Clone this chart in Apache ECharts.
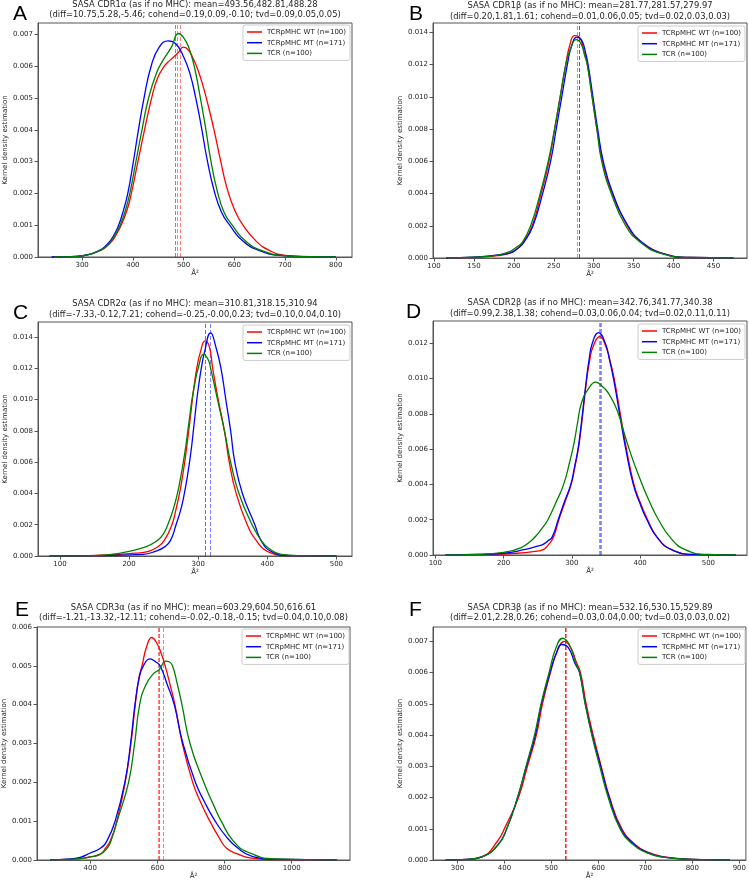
<!DOCTYPE html>
<html><head><meta charset="utf-8">
<script src="https://cdn.jsdelivr.net/npm/echarts@6/dist/echarts.min.js"></script>
<style>html,body{margin:0;padding:0;background:#fff}#c{width:749px;height:881px}</style>
</head><body><div id="c"></div>
<script>
// ---------------- DATA ----------------
const seriesNames = ['TCRpMHC WT (n=100)', 'TCRpMHC MT (n=171)', 'TCR (n=100)'];
const panelLetters = ['A', 'B', 'C', 'D', 'E', 'F'];
const panelTitles = [
  'SASA CDR1α (as if no MHC): mean=493.56,482.81,488.28\n(diff=10.75,5.28,-5.46; cohend=0.19,0.09,-0.10; tvd=0.09,0.05,0.05)',
  'SASA CDR1β (as if no MHC): mean=281.77,281.57,279.97\n(diff=0.20,1.81,1.61; cohend=0.01,0.06,0.05; tvd=0.02,0.03,0.03)',
  'SASA CDR2α (as if no MHC): mean=310.81,318.15,310.94\n(diff=-7.33,-0.12,7.21; cohend=-0.25,-0.00,0.23; tvd=0.10,0.04,0.10)',
  'SASA CDR2β (as if no MHC): mean=342.76,341.77,340.38\n(diff=0.99,2.38,1.38; cohend=0.03,0.06,0.04; tvd=0.02,0.11,0.11)',
  'SASA CDR3α (as if no MHC): mean=603.29,604.50,616.61\n(diff=-1.21,-13.32,-12.11; cohend=-0.02,-0.18,-0.15; tvd=0.04,0.10,0.08)',
  'SASA CDR3β (as if no MHC): mean=532.16,530.15,529.89\n(diff=2.01,2.28,0.26; cohend=0.03,0.04,0.00; tvd=0.03,0.03,0.02)'
];
const xLabel = 'Å²';
const yLabel = 'Kernel density estimation';

// Panel A : CDR1α
const wtA = [[240,0],[290,0.00002],[318,0.0001],[335,0.0002],[346,0.0003],[359,0.0005],[367,0.0007],[377,0.001],[389,0.0015],[397,0.002],[410,0.003],[423,0.004],[437,0.005],[448,0.0056],[462,0.006],[474,0.0062],[488,0.0064],[500,0.0066],[510,0.0065],[520,0.0062],[528,0.0059],[538,0.0054],[548,0.0048],[560,0.004],[572,0.0031],[585,0.0022],[600,0.0015],[617,0.001],[643,0.0005],[670,0.0002],[700,0.00005],[750,0.00001],[800,0]];
const mtA = [[240,0],[290,0.00002],[318,0.0001],[333,0.0002],[343,0.0003],[355,0.0005],[363,0.0007],[372,0.001],[382,0.0015],[390,0.002],[401,0.003],[411,0.004],[422,0.005],[436,0.006],[452,0.0066],[470,0.0068],[485,0.0067],[500,0.0063],[512,0.0058],[524,0.005],[535,0.0041],[546,0.0031],[560,0.0021],[575,0.0014],[591,0.001],[617,0.0005],[650,0.0002],[690,0.00005],[740,0.00001],[800,0]];
const tcrA = [[245,0],[290,0.00002],[318,0.0001],[334,0.0002],[345,0.0003],[357,0.0005],[365,0.0007],[375,0.001],[386,0.0015],[394,0.002],[406,0.003],[418,0.004],[431,0.005],[447,0.0058],[460,0.0062],[476,0.0066],[490,0.00703],[500,0.0069],[510,0.0066],[521,0.006],[532,0.0051],[543,0.0041],[553,0.0031],[566,0.0021],[580,0.0014],[596,0.001],[622,0.0005],[655,0.0002],[700,0.00004],[750,0.00001],[800,0]];
const meansA = [493.56, 482.81, 488.28];
const xTicksA = [300, 400, 500, 600, 700, 800];
const yTicksA = [0, 0.001, 0.002, 0.003, 0.004, 0.005, 0.006, 0.007];

// Panel B : CDR1β
const wtB = [[115,0],[150,0.00004],[180,0.00015],[195,0.0003],[205,0.0006],[212,0.001],[223,0.002],[234,0.004],[244,0.006],[251,0.008],[258,0.010],[265,0.012],[270,0.0132],[276,0.0138],[282,0.0137],[288,0.0128],[292,0.012],[298,0.010],[304,0.008],[311,0.006],[323,0.004],[342,0.002],[352,0.0013],[362,0.0009],[385,0.0003],[420,0.00003],[475,0]];
const mtB = [[115,0],[150,0.00005],[180,0.0002],[195,0.0003],[205,0.0006],[213,0.001],[224,0.002],[236,0.004],[246,0.006],[253,0.008],[260,0.010],[267,0.012],[272,0.0131],[279,0.0137],[285,0.0135],[290,0.0127],[293,0.012],[299,0.010],[305,0.008],[312,0.006],[324,0.004],[343,0.002],[360,0.001],[385,0.0003],[420,0.00003],[475,0]];
const tcrB = [[115,0],[150,0.00005],[180,0.00018],[195,0.0004],[204,0.0007],[211,0.001],[221,0.002],[233,0.004],[243,0.006],[251,0.008],[258,0.010],[265,0.012],[271,0.013],[278,0.01355],[284,0.0133],[289,0.0125],[292,0.012],[298,0.010],[304,0.008],[310,0.006],[322,0.004],[340,0.002],[358,0.001],[383,0.0003],[420,0.00003],[475,0]];
const meansB = [281.77, 281.57, 279.97];
const xTicksB = [100, 150, 200, 250, 300, 350, 400, 450];
const yTicksB = [0, 0.002, 0.004, 0.006, 0.008, 0.010, 0.012, 0.014];

// Panel C : CDR2α
const wtC = [[85,0],[140,0.00002],[180,0.0001],[210,0.00018],[228,0.0003],[242,0.0006],[251,0.001],[262,0.002],[268,0.003],[273,0.004],[277,0.005],[280.5,0.006],[283.5,0.007],[286.3,0.008],[289,0.009],[291.6,0.010],[294.5,0.011],[298,0.012],[303,0.013],[310,0.01375],[316,0.0134],[321,0.012],[329,0.010],[338,0.008],[345,0.006],[355,0.004],[371,0.002],[384,0.001],[400,0.0003],[430,0.00003],[500,0]];
const mtC = [[85,0],[150,0.00002],[190,0.00006],[220,0.0001],[238,0.0003],[252,0.0006],[260,0.001],[268,0.002],[275,0.003],[280,0.004],[284,0.005],[287.5,0.006],[290.5,0.007],[293,0.008],[295.5,0.009],[298,0.010],[301,0.011],[304.5,0.012],[309,0.013],[318,0.01426],[326,0.0133],[333,0.012],[340,0.010],[347,0.008],[353,0.006],[364,0.004],[382,0.002],[391,0.001],[405,0.0003],[430,0.00003],[500,0]];
const tcrC = [[85,0],[150,0.00003],[175,0.0001],[200,0.0003],[225,0.0006],[238,0.0009],[248,0.0013],[256,0.002],[264,0.003],[270,0.004],[274.5,0.005],[278.5,0.006],[282,0.007],[285,0.008],[288,0.009],[291,0.010],[295,0.011],[300,0.012],[308,0.0129],[315,0.0125],[318,0.012],[328,0.010],[338,0.008],[347,0.006],[359,0.004],[378,0.002],[391,0.001],[402,0.0005],[420,0.0001],[450,0.00002],[500,0]];
const meansC = [310.81, 318.15, 310.94];
const xTicksC = [100, 200, 300, 400, 500];
const yTicksC = [0, 0.002, 0.004, 0.006, 0.008, 0.010, 0.012, 0.014];

// Panel D : CDR2β
const wtD = [[115,0],[180,0.00003],[220,0.0001],[245,0.0002],[258,0.0003],[266,0.0006],[273,0.001],[281,0.002],[290,0.003],[299,0.004],[304.5,0.005],[309.5,0.006],[313,0.007],[316,0.008],[322,0.010],[326,0.011],[331,0.0118],[341,0.01237],[350,0.0118],[356,0.011],[362,0.010],[371,0.008],[380,0.006],[391,0.004],[400,0.003],[411,0.002],[425,0.001],[446,0.0003],[480,0.00003],[540,0]];
const mtD = [[115,0],[160,0.00003],[200,0.0001],[230,0.0003],[250,0.0005],[258,0.0006],[265,0.0008],[271,0.001],[280,0.002],[289,0.003],[298.5,0.004],[304,0.005],[309,0.006],[312.5,0.007],[315.5,0.008],[321.5,0.010],[325,0.011],[330,0.012],[339,0.0126],[349,0.012],[355.5,0.011],[361,0.010],[370,0.008],[379,0.006],[390,0.004],[399,0.003],[410,0.002],[425,0.001],[446,0.0003],[480,0.00003],[540,0]];
const tcrD = [[115,0],[160,0.00003],[200,0.00015],[225,0.0004],[240,0.0008],[250,0.0012],[258,0.0016],[265,0.002],[277,0.003],[288,0.004],[297,0.0053],[303,0.0063],[308,0.0074],[314,0.0086],[324,0.0094],[335,0.0098],[346,0.0095],[353,0.0092],[363,0.0085],[370,0.0078],[376,0.007],[384,0.006],[393,0.005],[403,0.004],[414,0.003],[427,0.002],[444,0.001],[466,0.0003],[500,0.00003],[540,0]];
const meansD = [342.76, 341.77, 340.38];
const xTicksD = [100, 200, 300, 400, 500];
const yTicksD = [0, 0.002, 0.004, 0.006, 0.008, 0.010, 0.012];

// Panel E : CDR3α
const wtE = [[280,0],[350,0.00002],[400,0.00008],[430,0.00015],[445,0.0003],[460,0.0005],[479,0.001],[504,0.002],[521,0.003],[534,0.004],[545,0.0047],[554,0.005],[568,0.0055],[583,0.00573],[597,0.0056],[612,0.0053],[623,0.005],[638,0.0045],[652,0.004],[674,0.003],[705,0.002],[728,0.0015],[756,0.001],[782,0.0006],[806,0.0003],[840,0.00015],[880,0.00005],[950,0.00001],[1135,0]];
const mtE = [[280,0],[330,0.00002],[370,0.00007],[400,0.00018],[430,0.0003],[450,0.0005],[474,0.001],[503,0.002],[520,0.003],[533,0.004],[546,0.0047],[558,0.005],[578,0.00518],[595,0.0051],[608,0.005],[630,0.0045],[650,0.004],[676,0.003],[713,0.002],[740,0.0015],[772,0.001],[805,0.0006],[840,0.0003],[880,0.0001],[950,0.00002],[1135,0]];
const tcrE = [[280,0],[350,0.00002],[400,0.00008],[430,0.00015],[450,0.0003],[462,0.0005],[480,0.001],[514,0.002],[532,0.003],[547,0.004],[565,0.0045],[588,0.0048],[605,0.0049],[625,0.00512],[636,0.0051],[645,0.005],[660,0.0045],[673,0.004],[697,0.003],[738,0.002],[768,0.0014],[790,0.001],[825,0.0005],[870,0.0002],[950,0.00003],[1135,0]];
const meansE = [603.29, 604.50, 616.61];
const xTicksE = [400, 600, 800, 1000];
const yTicksE = [0, 0.001, 0.002, 0.003, 0.004, 0.005, 0.006];

// Panel F : CDR3β
const wtF = [[275,0],[320,0.00002],[352,0.0001],[385,0.0006],[403,0.0011],[430,0.002],[449,0.003],[468,0.004],[481,0.005],[498,0.006],[513,0.0067],[528,0.007],[541,0.0068],[554,0.0063],[562,0.006],[574,0.005],[589,0.004],[606,0.003],[624,0.002],[650,0.001],[678,0.0005],[705,0.00025],[740,0.0001],[800,0.00002],[880,0]];
const mtF = [[275,0],[320,0.00002],[352,0.0001],[387,0.0005],[405,0.001],[428,0.002],[447,0.003],[466,0.004],[479,0.005],[497,0.006],[510,0.0066],[522,0.0069],[536,0.0068],[550,0.0063],[560,0.006],[572,0.005],[587,0.004],[605,0.003],[623,0.002],[648,0.001],[676,0.0005],[703,0.00025],[735,0.0001],[800,0.00002],[880,0]];
const tcrF = [[275,0],[320,0.00002],[352,0.0001],[387,0.0005],[405,0.001],[428,0.002],[446,0.003],[464,0.004],[478,0.005],[495,0.006],[510,0.0068],[524,0.0071],[538,0.0069],[552,0.0063],[560,0.006],[572,0.005],[586,0.004],[603,0.003],[621,0.002],[646,0.001],[673,0.0005],[700,0.00025],[733,0.0001],[800,0.00002],[880,0]];
const meansF = [532.16, 530.15, 529.89];
const xTicksF = [300, 400, 500, 600, 700, 800, 900];
const yTicksF = [0, 0.001, 0.002, 0.003, 0.004, 0.005, 0.006, 0.007];

// ---------------- LAYOUT / STYLE ----------------
const colors = ['#ff0000', '#0000ff', '#008000'];
const meanColors = ['rgba(255,0,0,0.5)', 'rgba(0,0,255,0.5)', 'rgba(0,128,0,0.5)'];
const panelData = [
  {curves:[wtA, mtA, tcrA], means:meansA, xt:xTicksA, yt:yTicksA},
  {curves:[wtB, mtB, tcrB], means:meansB, xt:xTicksB, yt:yTicksB},
  {curves:[wtC, mtC, tcrC], means:meansC, xt:xTicksC, yt:yTicksC},
  {curves:[wtD, mtD, tcrD], means:meansD, xt:xTicksD, yt:yTicksD},
  {curves:[wtE, mtE, tcrE], means:meansE, xt:xTicksE, yt:yTicksE},
  {curves:[wtF, mtF, tcrF], means:meansF, xt:xTicksF, yt:yTicksF}
];
const layout = [
  {l:38,  t:23,  w:314, h:234, xmin:213,   xmax:832,    ymax:0.00736, lg:[243,25],  tx:195,   ty:-1,    let:[13,14.5],  yGap:28, xGap:12},
  {l:433, t:23,  w:314, h:235, xmin:98.7,  xmax:492,    ymax:0.01458, lg:[638,26],  tx:590,   ty:0.4,   let:[409,14],   yGap:28, xGap:12},
  {l:38,  t:322, w:314, h:234, xmin:68.2,  xmax:522.6,  ymax:0.01496, lg:[243,325], tx:195,   ty:298.6, let:[13,313],   yGap:28, xGap:12},
  {l:433, t:321, w:314, h:234, xmin:96.6,  xmax:556.6,  ymax:0.01326, lg:[638,324], tx:590,   ty:297.3, let:[406,312.5],yGap:28, xGap:12},
  {l:37,  t:627, w:313, h:233, xmin:241.3, xmax:1173.5, ymax:0.006,   lg:[242,629], tx:193.5, ty:602,   let:[15,610.5], yGap:28, xGap:12},
  {l:433, t:627, w:314, h:233, xmin:248,   xmax:914,    ymax:0.00746, lg:[638,629], tx:590,   ty:602,   let:[409,610.5],yGap:28, xGap:12}
];
const FONT = 'DejaVu Sans';
const TXT = '#262626';
const AX = '#555';
const FS = 7;

const grids = [], xAxes = [], yAxes = [], series = [], legends = [], graphics = [];
layout.forEach((p, i) => {
  const d = panelData[i];
  grids.push({left:p.l, top:p.t, width:p.w, height:p.h, show:true, borderColor:AX, borderWidth:1, backgroundColor:'transparent'});
  xAxes.push({
    gridIndex:i, type:'value', min:p.xmin, max:p.xmax,
    axisLine:{show:true, onZero:false, lineStyle:{color:AX, width:1}},
    axisTick:{show:true, length:3.5, customValues:d.xt, lineStyle:{color:AX}},
    axisLabel:{customValues:d.xt, fontSize:FS, color:TXT, margin:4.5, fontFamily:FONT, formatter:v => String(v)},
    splitLine:{show:false},
    name:xLabel, nameLocation:'middle', nameGap:p.xGap, nameTextStyle:{fontSize:FS, color:TXT, fontFamily:FONT}
  });
  yAxes.push({
    gridIndex:i, type:'value', min:0, max:p.ymax,
    axisLine:{show:true, onZero:false, lineStyle:{color:AX, width:1}},
    axisTick:{show:true, length:3.5, customValues:d.yt, lineStyle:{color:AX}},
    axisLabel:{customValues:d.yt, fontSize:FS, color:TXT, margin:5, fontFamily:FONT, formatter:v => v.toFixed(3)},
    splitLine:{show:false},
    name:yLabel, nameLocation:'middle', nameGap:p.yGap, nameTextStyle:{fontSize:FS, color:TXT, fontFamily:FONT}
  });
  d.curves.forEach((c, k) => {
    series.push({
      name:seriesNames[k], type:'line', xAxisIndex:i, yAxisIndex:i, data:c,
      showSymbol:false, smooth:0.5,
      lineStyle:{color:colors[k], width:1.3}, itemStyle:{color:colors[k]},
      z:3,
      markLine:{silent:true, symbol:['none','none'], label:{show:false}, z:2,
        lineStyle:{type:[4,2], color:meanColors[k], width:1, opacity:1},
        emphasis:{disabled:true},
        data:[{xAxis:d.means[k]}]}
    });
  });
  legends.push({
    data:seriesNames, left:p.lg[0], top:p.lg[1], orient:'vertical',
    icon:'rect', itemWidth:15, itemHeight:1.5, itemGap:1.7,
    padding:[2.5,4,2.5,4], borderColor:'#cccccc', borderWidth:1, borderRadius:2,
    backgroundColor:'rgba(255,255,255,0.8)',
    textStyle:{fontSize:FS, lineHeight:9, color:TXT, fontFamily:FONT}
  });
  graphics.push({type:'text', x:p.tx, y:p.ty, z:10, style:{text:panelTitles[i], fill:TXT, fontSize:8.4, fontFamily:FONT, align:'center', verticalAlign:'top', lineHeight:10.7}});
  graphics.push({type:'text', x:p.let[0], y:p.let[1], z:10, style:{text:panelLetters[i], fill:'#000', fontSize:21, fontFamily:'Liberation Sans', align:'left', verticalAlign:'middle'}});
});

const chart = echarts.init(document.getElementById('c'), null, {renderer:'canvas'});
chart.setOption({
  animation:false,
  backgroundColor:'#fff',
  textStyle:{fontFamily:FONT},
  grid:grids, xAxis:xAxes, yAxis:yAxes, series:series, legend:legends, graphic:graphics
});
</script></body></html>
